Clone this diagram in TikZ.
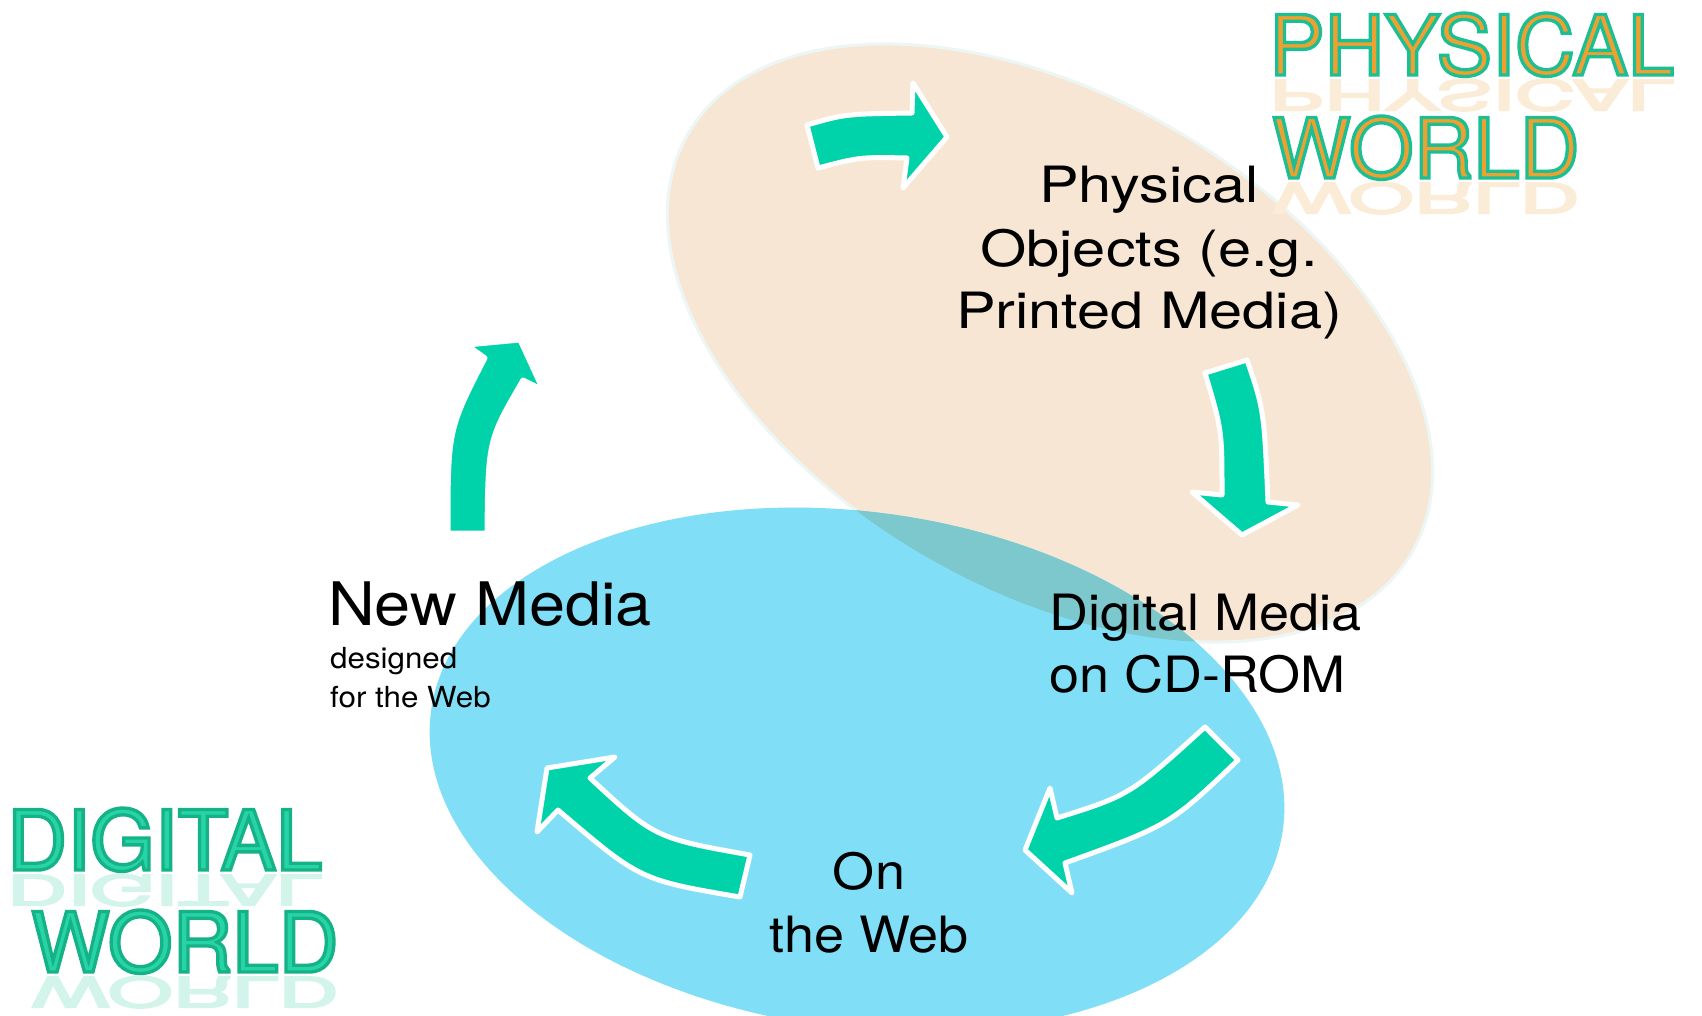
\documentclass[tikz,border=0pt]{standalone}
\usepackage{fontspec}
\setmainfont{TeX Gyre Heros}
\newfontfamily\bodyfont[FakeStretch=1.08]{TeX Gyre Heros}
\newfontfamily\physfont[FakeStretch=1.19]{TeX Gyre Heros}
\newfontfamily\titlefont[FakeBold=4]{TeX Gyre Heros}
\newcommand\strokergb[3]{\special{pdf:literal direct #1 #2 #3 RG}}
\definecolor{peach}{RGB}{248,230,212}
\definecolor{peachedge}{RGB}{236,246,244}
\definecolor{skyblue}{RGB}{128,223,247}
\definecolor{overlapc}{RGB}{125,200,205}
\definecolor{arrowgreen}{RGB}{0,211,170}
\definecolor{titleorange}{RGB}{238,160,48}
\definecolor{digitalfill}{RGB}{38,212,166}
\definecolor{physrefl}{RGB}{250,236,214}
\definecolor{digirefl}{RGB}{210,244,234}
\tikzset{
  blockarrow/.style={fill=arrowgreen, draw=white, line width=5pt, line join=round},
  lbl/.style={inner sep=0pt, anchor=base, text=black},
  lblw/.style={inner sep=0pt, anchor=base west, text=black},
  bigtxt/.style={font=\bodyfont\fontsize{50}{50}\selectfont},
  phystxt/.style={font=\physfont\fontsize{50}{50}\selectfont},
  newtxt/.style={font=\bodyfont\fontsize{60}{60}\selectfont},
  smalltxt/.style={font=\bodyfont\fontsize{29}{29}\selectfont},
  titletxt/.style={inner sep=0pt, anchor=base west, font=\titlefont\fontsize{83}{83}\selectfont},
}
\begin{document}
\begin{tikzpicture}[x=1pt,y=-1pt]
\useasboundingbox (0,0) rectangle (1702,1016);
\fill[white] (0,0) rectangle (1702,1016);
% ellipses
\fill[peach, draw=peachedge, line width=3pt, rotate around={-30:(1050,343)}] (1050,343) ellipse [x radius=418, y radius=247];
\fill[skyblue, rotate around={-8:(857,770)}] (857,770) ellipse [x radius=430, y radius=258];
\begin{scope}
  \clip[rotate around={-30:(1050,343)}] (1050,343) ellipse [x radius=418, y radius=247];
  \fill[overlapc, rotate around={-8:(857,770)}] (857,770) ellipse [x radius=430, y radius=258];
\end{scope}
% arrows
\draw[blockarrow] (807,125) .. controls (845,114) .. (912,113) -- (913,83) -- (947,137) -- (903,188) -- (907,158) .. controls (860,157) .. (818,168) -- cycle;
\draw[blockarrow] (1205,373) -- (1247,360) .. controls (1264,410) .. (1268,502) -- (1298,505) -- (1242,535) -- (1192,492) -- (1222,495) .. controls (1222,430) .. (1205,373) -- cycle;
\draw[blockarrow] (1205,727) -- (1238,760) .. controls (1170,825) .. (1065,863) -- (1072,893) -- (1025,850) -- (1050,788) -- (1057,818) .. controls (1130,795) .. (1205,727) -- cycle;
\draw[blockarrow] (750,855) -- (740,897) .. controls (640,880) .. (558,810) -- (537,832) -- (547,768) -- (615,757) -- (590,778) .. controls (655,838) .. (750,855) -- cycle;
\draw[blockarrow] (448,533) -- (487,533) .. controls (488,440) .. (523,380) -- (543,390) -- (520,340) -- (467,345) -- (485,358) .. controls (448,430) .. (448,533) -- cycle;
% labels
\node[lbl, phystxt] (phys1) at (1149,203) {Physical};
\node[lbl, phystxt] (phys2) at (1149,267) {Objects (e.g.};
\node[lbl, phystxt] (phys3) at (1149,328) {Printed Media)};
\node[lblw, bigtxt] (dig1) at (1049,630) {Digital Media};
\node[lblw, bigtxt] (dig2) at (1049,692) {on CD-ROM};
\node[lbl, bigtxt] (web1) at (869,889) {On};
\node[lbl, bigtxt] (web2) at (869,952) {the Web};
\node[lblw, newtxt] (new1) at (328,625) {New Media};
\node[lblw, smalltxt] (new2) at (330,668) {designed};
\node[lblw, smalltxt] (new3) at (330,707) {for the Web};
% titles: reflections (compressed, faded)
\begin{scope}[shift={(1269,80)}, yscale=-0.5]
  \node[titletxt, transform shape, text=physrefl] (pr1) at (0,0) {PHYSICAL};
\end{scope}
\begin{scope}[shift={(1272,183)}, yscale=-0.5]
  \node[titletxt, transform shape, text=physrefl] (pr2) at (0,0) {WORLD};
\end{scope}
\begin{scope}[shift={(7,875)}, yscale=-0.5]
  \node[titletxt, transform shape, text=digirefl] (dr1) at (0,0) {DIGITAL};
\end{scope}
\begin{scope}[shift={(31,977)}, yscale=-0.5]
  \node[titletxt, transform shape, text=digirefl] (dr2) at (0,0) {WORLD};
\end{scope}
% titles
\node[titletxt, text=titleorange] (pt1) at (1269,75) {\strokergb{0.110}{0.745}{0.580}PHYSICAL};
\node[titletxt, text=titleorange] (pt2) at (1272,178) {\strokergb{0.110}{0.745}{0.580}WORLD};
\node[titletxt, text=digitalfill] (dt1) at (7,870) {\strokergb{0.086}{0.700}{0.530}DIGITAL};
\node[titletxt, text=digitalfill] (dt2) at (31,972) {\strokergb{0.086}{0.700}{0.530}WORLD};
\end{tikzpicture}
\end{document}
